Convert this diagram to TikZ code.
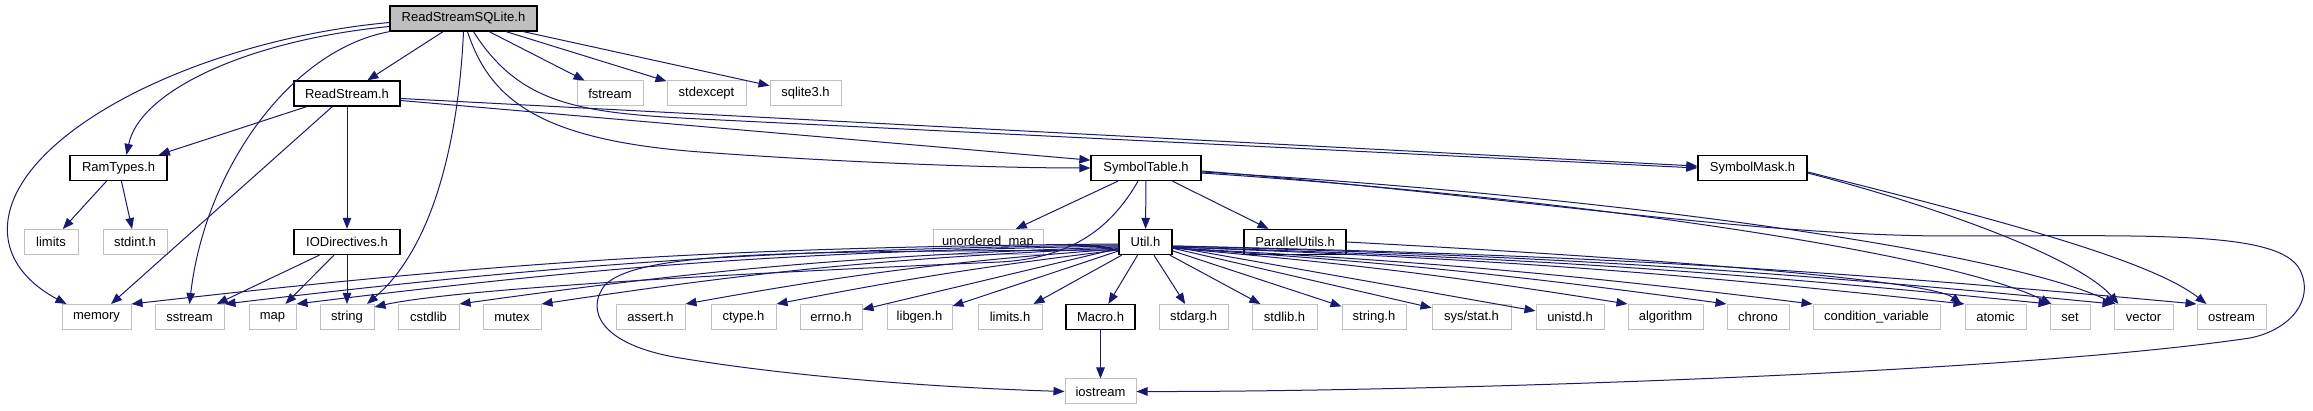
\documentclass[tikz,border=0pt]{standalone}
\usepackage{fontspec}
\setmainfont{Liberation Sans}
\usetikzlibrary{arrows.meta}
\definecolor{dblue}{HTML}{191970}
\definecolor{lgray}{HTML}{BFBFBF}
\tikzset{
  box/.style={draw=lgray, line width=1pt, rectangle, minimum height=25pt, inner sep=0pt,
              font=\fontsize{13}{15}\selectfont, text=black, fill=white},
  inbox/.style={box, draw=black, line width=1.3pt},
  rootbox/.style={inbox, fill=lgray},
  dep/.style={draw=dblue, line width=1pt, -{Triangle[length=11pt,width=8.5pt]}}
}
\begin{document}
\begin{tikzpicture}[x=1pt,y=-1pt]
\useasboundingbox[fill=white] (0,0) rectangle (2313,411);
% row 1
\node[rootbox,minimum width=147pt] (top) at (463.5,18.5) {ReadStreamSQLite.h};
% row 2
\node[inbox,minimum width=106pt] (rs) at (347,93.5) {ReadStream.h};
\node[box,minimum width=66pt] (fstream) at (610,93.5) {fstream};
\node[box,minimum width=79pt] (stdexcept) at (706.5,93.5) {stdexcept};
\node[box,minimum width=71pt] (sqlite) at (805.5,93.5) {sqlite3.h};
% row 3
\node[inbox,minimum width=97pt] (ram) at (118.5,168) {RamTypes.h};
\node[inbox,minimum width=110pt] (symt) at (1146,168) {SymbolTable.h};
\node[inbox,minimum width=109pt] (symm) at (1752.5,168) {SymbolMask.h};
% row 4
\node[box,minimum width=54pt] (limits) at (51,242) {limits};
\node[box,minimum width=64pt] (stdint) at (135,242) {stdint.h};
\node[inbox,minimum width=106pt] (iod) at (347,242) {IODirectives.h};
\node[box,minimum width=110pt] (umap) at (988,242) {unordered\_map};
\node[inbox,minimum width=53pt] (util) at (1145.5,242) {Util.h};
\node[inbox,minimum width=102pt] (par) at (1295,242) {ParallelUtils.h};
% row 5
\node[box,minimum width=69pt] (memory) at (96.5,317) {memory};
\node[box,minimum width=69pt] (sstream) at (189.5,317) {sstream};
\node[box,minimum width=47pt] (map) at (272.5,317) {map};
\node[box,minimum width=54pt] (string) at (347,317) {string};
\node[box,minimum width=61pt] (cstdlib) at (428.5,317) {cstdlib};
\node[box,minimum width=58pt] (mutex) at (512,317) {mutex};
\node[box,minimum width=69pt] (assert) at (650.5,317) {assert.h};
\node[box,minimum width=65pt] (ctype) at (743.5,317) {ctype.h};
\node[box,minimum width=62pt] (errno) at (831,317) {errno.h};
\node[box,minimum width=65pt] (libgen) at (919.5,317) {libgen.h};
\node[box,minimum width=64pt] (limitsh) at (1010,317) {limits.h};
\node[inbox,minimum width=69pt] (macro) at (1100.5,317) {Macro.h};
\node[box,minimum width=69pt] (stdarg) at (1193.5,317) {stdarg.h};
\node[box,minimum width=65pt] (stdlib) at (1284.5,317) {stdlib.h};
\node[box,minimum width=64pt] (stringh) at (1374,317) {string.h};
\node[box,minimum width=79pt] (sysstat) at (1471.5,317) {sys/stat.h};
\node[box,minimum width=68pt] (unistd) at (1570,317) {unistd.h};
\node[box,minimum width=75pt] (algorithm) at (1665.5,317) {algorithm};
\node[box,minimum width=62pt] (chrono) at (1758,317) {chrono};
\node[box,minimum width=127pt] (condvar) at (1876.5,317) {condition\_variable};
\node[box,minimum width=61pt] (atomic) at (1995.5,317) {atomic};
\node[box,minimum width=40pt] (set) at (2070,317) {set};
\node[box,minimum width=59pt] (vector) at (2143.5,317) {vector};
\node[box,minimum width=69pt] (ostream) at (2231.5,317) {ostream};
% row 6
\node[box,minimum width=71pt] (iostream) at (1100.5,391.5) {iostream};

% ReadStreamSQLite.h
\draw[dep] ([yshift=-4pt]top.west) .. controls (200,40) and (20,130) .. (8,220) .. controls (2,265) and (40,290) .. ([xshift=-30pt]memory.north);
\draw[dep] ([yshift=-8pt]top.west) .. controls (250,40) and (140,90) .. ([xshift=8pt]ram.north);
\draw[dep] (top.south west) .. controls (290,50) and (205,170) .. (sstream.north);
\draw[dep] (top) -- (rs);
\draw[dep] (top.south) .. controls (458,150) and (430,250) .. ([xshift=20pt]string.north);
\draw[dep] ([xshift=4pt]top.south) .. controls (490,100) and (540,140) .. (700,152) .. controls (850,163) and (1000,168) .. (symt.west);
\draw[dep] ([xshift=10pt]top.south) .. controls (520,105) and (580,113) .. (700,119) -- (symm.west);
\draw[dep] (top) -- (fstream);
\draw[dep] (top) -- (stdexcept);
\draw[dep] (top) -- (sqlite);

% ReadStream.h
\draw[dep] (rs) -- (ram);
\draw[dep] (rs) -- (memory);
\draw[dep] (rs) -- (iod);
\draw[dep] ([yshift=-7pt]rs.east) -- (symt.172);
\draw[dep] ([yshift=-5pt]rs.east) -- (symm.178);

% RamTypes.h
\draw[dep] (ram) -- (limits);
\draw[dep] (ram) -- (stdint);

% IODirectives.h
\draw[dep] (iod) -- (sstream);
\draw[dep] (iod) -- (map);
\draw[dep] (iod) -- (string);

% SymbolTable.h
\draw[dep] (symt) -- (umap);
\draw[dep] (symt) -- (util);
\draw[dep] (symt) -- (par);
\draw[dep] ([xshift=-8pt]symt.south) .. controls (1110,230) and (1070,258) .. (1000,262) .. controls (700,275) and (450,290) .. ([yshift=-3pt]string.north east);
\draw[dep] ([yshift=-3pt]symt.east) .. controls (1500,195) and (1750,236) .. (1950,236) .. controls (2150,236) and (2280,230) .. (2300,270) .. controls (2315,300) and (2290,330) .. (2250,338) .. controls (2000,375) and (1400,392) .. (iostream.east);
\draw[dep] ([yshift=-5pt]symt.east) .. controls (1600,200) and (1950,255) .. ([xshift=2pt]set.north west);
\draw[dep] ([yshift=-4pt]symt.east) .. controls (1600,195) and (2000,250) .. ([xshift=2pt]vector.north west);

% SymbolMask.h
\draw[dep] ([yshift=-5pt]symm.east) .. controls (1950,210) and (2080,260) .. ([xshift=-25pt]vector.north);
\draw[dep] ([yshift=-4pt]symm.east) .. controls (2000,220) and (2150,260) .. ([xshift=-25pt]ostream.north);

% ParallelUtils.h
\draw[dep] (par.east) .. controls (1650,258) and (1930,280) .. ([xshift=-3pt]atomic.north west);

% Macro.h
\draw[dep] (macro) -- (iostream);

% Util.h, left side
\draw[dep] ([yshift=-8pt]util.west) .. controls (800,252) and (640,250) .. (605,285) .. controls (585,310) and (600,345) .. (680,358) .. controls (800,378) and (950,388) .. (iostream.west);
\draw[dep] ([yshift=-2pt]util.west) to[bend right=3] (memory.north east);
\draw[dep] ([yshift=-3pt]util.west) to[bend right=3] (sstream.north east);
\draw[dep] ([yshift=-4pt]util.west) to[bend right=3] (map.north east);
\draw[dep] ([yshift=-5pt]util.west) to[bend right=3] (cstdlib.north east);
\draw[dep] ([yshift=-6pt]util.west) to[bend right=3] (mutex.north east);
\draw[dep] ([yshift=-7pt]util.west) to[bend right=3] (assert.north east);
\draw[dep] ([yshift=-8pt]util.west) to[bend right=2] (ctype.north east);
\draw[dep] (util) -- (errno);
\draw[dep] (util) -- (libgen);
\draw[dep] (util) -- (limitsh);
\draw[dep] (util) -- (macro);
% Util.h, right side
\draw[dep] (util) -- (stdarg);
\draw[dep] (util) -- (stdlib);
\draw[dep] (util) -- (stringh);
\draw[dep] (util) -- (sysstat);
\draw[dep] (util) -- (unistd);
\draw[dep] ([yshift=-6pt]util.east) to[bend left=2] (algorithm.north west);
\draw[dep] ([yshift=-6pt]util.east) to[bend left=2] (chrono.north west);
\draw[dep] ([yshift=-6pt]util.east) to[bend left=2] (condvar.north west);
\draw[dep] ([yshift=-5pt]util.east) to[bend left=2] (atomic.north west);
\draw[dep] ([yshift=-5pt]util.east) to[bend left=2] (set.north west);
\draw[dep] ([yshift=-4pt]util.east) to[bend left=2] (vector.north west);
\draw[dep] ([yshift=-4pt]util.east) to[bend left=2] (ostream.north west);
\end{tikzpicture}
\end{document}
